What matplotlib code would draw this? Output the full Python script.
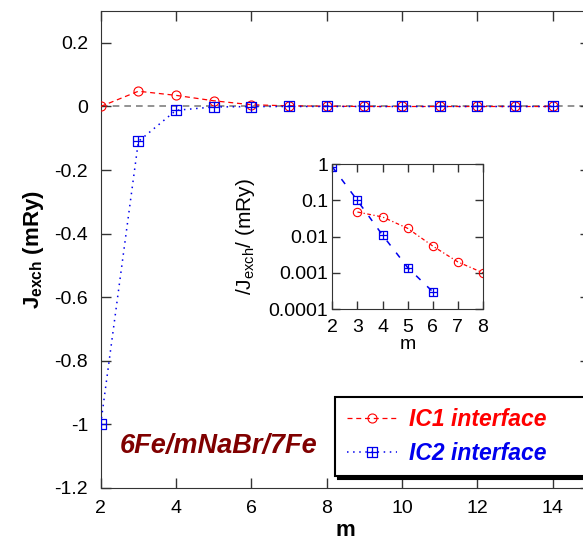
import numpy as np
import matplotlib
matplotlib.use('Agg')
import matplotlib.pyplot as plt
from matplotlib.path import Path

plt.rcParams['font.family'] = ['Liberation Sans', 'DejaVu Sans']
plt.rcParams['mathtext.fontset'] = 'custom'
plt.rcParams['mathtext.rm'] = 'Liberation Sans'
plt.rcParams['mathtext.it'] = 'Liberation Sans:italic'
plt.rcParams['mathtext.bf'] = 'Liberation Sans:bold'

# main panel data
m_ic1 = [2, 3, 4, 5, 6, 7, 8, 9, 10, 11, 12, 13, 14]
j_ic1 = [0.0, 0.048, 0.035, 0.018, 0.0055, 0.002, 0.001, 0, 0, 0, 0, 0, 0]
m_ic2 = [2, 3, 4, 5, 6, 7, 8, 9, 10, 11, 12, 13, 14]
j_ic2 = [-1.0, -0.11, -0.012, -0.0015, -0.0003, 0, 0, 0, 0, 0, 0, 0, 0]

# inset data (|J|, log scale)
m_in1 = [3, 4, 5, 6, 7, 8]
j_in1 = [0.048, 0.035, 0.017, 0.0055, 0.002, 0.001]
m_in2 = [2, 3, 4, 5, 6]
j_in2 = [0.85, 0.1, 0.011, 0.0014, 0.0003]

xticks = [2, 4, 6, 8, 10, 12, 14]
yticks = [-1.2, -1, -0.8, -0.6, -0.4, -0.2, 0, 0.2]
yticklabels = ['-1.2', '-1', '-0.8', '-0.6', '-0.4', '-0.2', '0', '0.2']
in_xticks = [2, 3, 4, 5, 6, 7, 8]
in_yticks = [1e-4, 1e-3, 1e-2, 1e-1, 1]
in_yticklabels = ['0.0001', '0.001', '0.01', '0.1', '1']

# square with a cross inside
sqplus = Path([(-1, -1), (1, -1), (1, 1), (-1, 1), (-1, -1),
               (0, -1), (0, 1), (-1, 0), (1, 0)],
              [Path.MOVETO, Path.LINETO, Path.LINETO, Path.LINETO, Path.CLOSEPOLY,
               Path.MOVETO, Path.LINETO, Path.MOVETO, Path.LINETO])

red = '#ff0000'
blue = '#0000ee'

fig = plt.figure(figsize=(5.83, 5.45), dpi=100)
ax = fig.add_axes([0.1727, 0.1046, 0.840, 0.875])

ax.axhline(0, color='gray', ls=(0, (4, 3)), lw=1.2, zorder=1)
l1, = ax.plot(m_ic1, j_ic1, color=red, ls=(0, (4, 3)), lw=0.9,
              marker='o', ms=6.5, mfc='none', mec=red, mew=0.8,
              label='IC1 interface', zorder=3)
l2, = ax.plot(m_ic2, j_ic2, color=blue, ls=(0, (1, 3)), lw=1.1,
              marker=sqplus, ms=7.5, mfc='none', mec=blue, mew=0.9,
              label='IC2 interface', zorder=4)

ax.set_xlim(2, 15)
ax.set_ylim(-1.2, 0.3)
ax.set_xticks(xticks)
ax.set_yticks(yticks)
ax.set_yticklabels(yticklabels)
ax.tick_params(direction='in', length=7, width=1, labelsize=14, color='#333333',
               top=True, right=True, pad=9)
for s in ax.spines.values():
    s.set_color('#333333')
ax.set_xlabel('m', fontsize=16, fontweight='bold', labelpad=2)
ax.set_ylabel(r'J$_{\mathbf{exch}}$ (mRy)', fontsize=16, fontweight='bold', labelpad=6)

ax.text(0.038, 0.088, '6Fe/mNaBr/7Fe', transform=ax.transAxes, fontsize=19.5,
        fontweight='bold', style='italic', color='#800000', va='center')

leg = ax.legend(handles=[l1, l2], loc='upper left',
                bbox_to_anchor=(0.575, 0.122, 0.45, 0.15),
                bbox_transform=fig.transFigure, mode='expand',
                fancybox=False, framealpha=1, edgecolor='black',
                shadow={'facecolor': 'black', 'edgecolor': 'black', 'alpha': 1},
                prop={'size': 16.5, 'weight': 'bold', 'style': 'italic'},
                handlelength=2.2, handletextpad=0.5, borderpad=0.5,
                labelspacing=0.45, borderaxespad=0)
leg.get_frame().set_linewidth(1.5)
leg.get_texts()[0].set_color(red)
leg.get_texts()[1].set_color(blue)

# inset
axi = fig.add_axes([0.570, 0.433, 0.2585, 0.2655])
axi.plot(m_in1, j_in1, color=red, ls=(0, (3, 2, 1, 2)), lw=0.9,
         marker='o', ms=6, mfc='none', mec=red, mew=0.8)
axi.plot(m_in2, j_in2, color=blue, ls=(0, (4, 6)), lw=1.1,
         marker=sqplus, ms=6, mfc='none', mec=blue, mew=0.9)
axi.set_yscale('log')
axi.set_xlim(2, 8)
axi.set_ylim(1e-4, 1)
axi.set_xticks(in_xticks)
axi.set_yticks(in_yticks)
axi.set_yticklabels(in_yticklabels)
axi.minorticks_off()
axi.tick_params(direction='in', length=6, width=1, labelsize=14, color='#333333',
                top=True, right=True)
axi.tick_params(axis='x', pad=7)
axi.tick_params(axis='y', pad=3)
for s in axi.spines.values():
    s.set_color('#333333')
axi.set_xlabel('m', fontsize=14, labelpad=0)
axi.set_ylabel(r'/J$_{\mathrm{exch}}$/ (mRy)', fontsize=15, labelpad=8)

fig.savefig('out.png', dpi=100)
